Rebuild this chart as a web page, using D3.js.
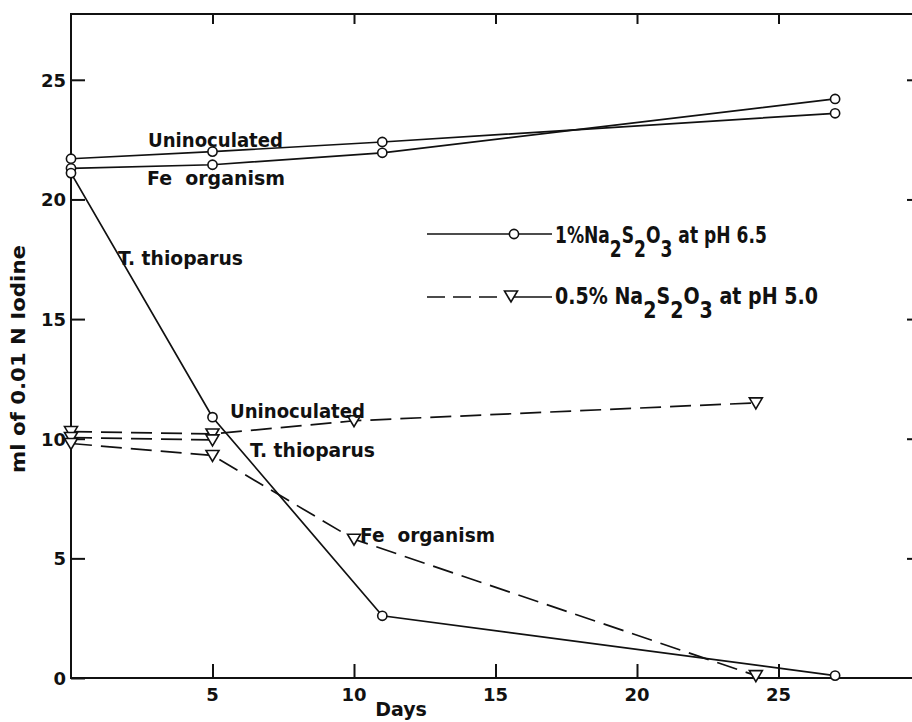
<!DOCTYPE html>
<html><head><meta charset="utf-8">
<script src="https://cdn.jsdelivr.net/npm/d3@7"></script>
<style>
body{margin:0;background:#fff}
svg{display:block}
text{font-family:"DejaVu Sans",sans-serif;font-weight:bold;fill:#111}
</style>
</head><body><svg id="c" width="912" height="722"></svg>
<script>
// ---- data ----
const xTicks = [5, 10, 15, 20, 25];
const yTicks = [0, 5, 10, 15, 20, 25];
const sideTicks = [5, 10, 15, 20, 25];

// 1% Na2S2O3 at pH 6.5 (solid line, open circles)
const solidDays = [0, 5, 11, 27];
const solidUninoculated = [21.7, 22.0, 22.4, 23.6];
const solidFeOrganism = [21.3, 21.45, 21.95, 24.2];
const solidThioparus = [21.1, 10.9, 2.6, 0.1];

// 0.5% Na2S2O3 at pH 5.0 (dashed line, open triangles)
const dashDays = [0, 5, 10, 24.2];
const dashUninoculated = [10.3, 10.2, 10.75, 11.5];
const dashThioDays = [0, 5];
const dashThioparus = [10.05, 9.95];
const dashFeOrganism = [9.8, 9.3, 5.8, 0.1];

const legendNames = ["1%Na2S2O3 at pH 6.5", "0.5% Na2S2O3 at pH 5.0"];

// ---- drawing ----
const svg = d3.select("#c");
const x = d3.scaleLinear().domain([0, 30]).range([71, 920]);
const y = d3.scaleLinear().domain([0, 27.75]).range([678, 14]);

const ink = "#111";
const frame = svg.append("g").attr("stroke", ink).attr("stroke-width", 2).attr("fill", "none");
frame.append("path").attr("d", `M${x(30)},${y(27.75)}H${x(0)}V${y(0)}H${x(30)}`);

function styleTicks(g) {
  g.select(".domain").remove();
  g.selectAll("line").attr("stroke", ink).attr("stroke-width", 2);
}
svg.append("g").attr("transform", `translate(${x(0)},0)`)
  .call(d3.axisRight(y).tickValues(yTicks).tickSize(14).tickFormat("")).call(styleTicks);
svg.append("g").attr("transform", `translate(${x(30)},0)`)
  .call(d3.axisLeft(y).tickValues(sideTicks).tickSize(13).tickFormat("")).call(styleTicks);
svg.append("g").attr("transform", `translate(0,${y(0)})`)
  .call(d3.axisTop(x).tickValues(xTicks).tickSize(14).tickFormat("")).call(styleTicks);
svg.append("g").attr("transform", `translate(0,${y(27.75)})`)
  .call(d3.axisBottom(x).tickValues(xTicks).tickSize(10).tickFormat("")).call(styleTicks);

// tick labels
svg.append("g").selectAll("text").data(yTicks).join("text")
  .attr("x", 66).attr("y", d => y(d) + 7).attr("text-anchor", "end")
  .attr("font-size", 18).text(d => d);
svg.append("g").selectAll("text").data(xTicks).join("text")
  .attr("x", d => x(d)).attr("y", 701).attr("text-anchor", "middle")
  .attr("font-size", 18).text(d => d);

// axis titles
svg.append("text").attr("x", 401).attr("y", 716).attr("text-anchor", "middle")
  .attr("font-size", 19).text("Days");
svg.append("text").attr("transform", "translate(25,359) rotate(-90)")
  .attr("text-anchor", "middle").attr("font-size", 19)
  .attr("textLength", 228).attr("lengthAdjust", "spacingAndGlyphs")
  .text("ml of 0.01 N Iodine");

// series
const line = d3.line().x(d => x(d[0])).y(d => y(d[1]));
const zip = (a, b) => a.map((v, i) => [v, b[i]]);
const solidSeries = [solidUninoculated, solidFeOrganism, solidThioparus].map(s => zip(solidDays, s));
const dashSeries = [zip(dashDays, dashUninoculated), zip(dashThioDays, dashThioparus), zip(dashDays, dashFeOrganism)];

svg.append("g").selectAll("path").data(dashSeries).join("path")
  .attr("d", line).attr("fill", "none").attr("stroke", ink).attr("stroke-width", 1.7)
  .attr("stroke-dasharray", "21,9");
svg.append("g").selectAll("path").data(solidSeries).join("path")
  .attr("d", line).attr("fill", "none").attr("stroke", ink).attr("stroke-width", 1.7);

const tri = "M-6.5,-5L6.5,-5L0,6Z";
svg.append("g").selectAll("path").data(dashSeries.flat()).join("path")
  .attr("transform", d => `translate(${x(d[0])},${y(d[1])})`)
  .attr("d", tri).attr("fill", "#fff").attr("stroke", ink).attr("stroke-width", 1.6);
svg.append("g").selectAll("circle").data(solidSeries.flat()).join("circle")
  .attr("cx", d => x(d[0])).attr("cy", d => y(d[1])).attr("r", 4.6)
  .attr("fill", "#fff").attr("stroke", ink).attr("stroke-width", 1.6);

// annotations
const notes = [
  ["Uninoculated", 148, 147, 135],
  ["Fe  organism", 147, 185, 138],
  ["T. thioparus", 118, 265, 125],
  ["Uninoculated", 230, 418, 135],
  ["T. thioparus", 250, 457, 125],
  ["Fe  organism", 360, 542, 135]
];
svg.append("g").selectAll("text").data(notes).join("text")
  .attr("x", d => d[1]).attr("y", d => d[2]).attr("font-size", 19)
  .attr("textLength", d => d[3]).attr("lengthAdjust", "spacingAndGlyphs")
  .attr("xml:space", "preserve")
  .text(d => d[0]);

// legend
const lg = svg.append("g");
lg.append("line").attr("x1", 427).attr("x2", 552).attr("y1", 234).attr("y2", 234)
  .attr("stroke", ink).attr("stroke-width", 1.7);
lg.append("circle").attr("cx", 514).attr("cy", 234).attr("r", 4.6)
  .attr("fill", "#fff").attr("stroke", ink).attr("stroke-width", 1.6);
lg.append("line").attr("x1", 427).attr("x2", 505).attr("y1", 297).attr("y2", 297)
  .attr("stroke", ink).attr("stroke-width", 1.7).attr("stroke-dasharray", "18,8");
lg.append("line").attr("x1", 511).attr("x2", 552).attr("y1", 297).attr("y2", 297)
  .attr("stroke", ink).attr("stroke-width", 1.7);
lg.append("path").attr("transform", "translate(511,296)").attr("d", tri)
  .attr("fill", "#fff").attr("stroke", ink).attr("stroke-width", 1.6);

// chemical label: condensed via horizontal scale so tspans keep true boxes
function chem(g, label, xx, yy, len) {
  const [pre, post] = label.split("Na2S2O3");
  const holder = g.append("g").attr("transform", `translate(${xx},${yy})`);
  const t = holder.append("text").attr("x", 0).attr("y", 0).attr("font-size", 23)
    .attr("xml:space", "preserve");
  t.append("tspan").text(pre + "Na");
  t.append("tspan").attr("dy", 14).text("2");
  t.append("tspan").attr("dy", -14).text("S");
  t.append("tspan").attr("dy", 14).text("2");
  t.append("tspan").attr("dy", -14).text("O");
  t.append("tspan").attr("dy", 14).text("3");
  t.append("tspan").attr("dy", -14).text(post);
  const w = t.node().getComputedTextLength();
  holder.attr("transform", `translate(${xx},${yy}) scale(${len / w},1)`);
}
chem(lg, legendNames[0], 555, 243, 212);
chem(lg, legendNames[1], 555, 304, 263);
</script>
</body></html>
